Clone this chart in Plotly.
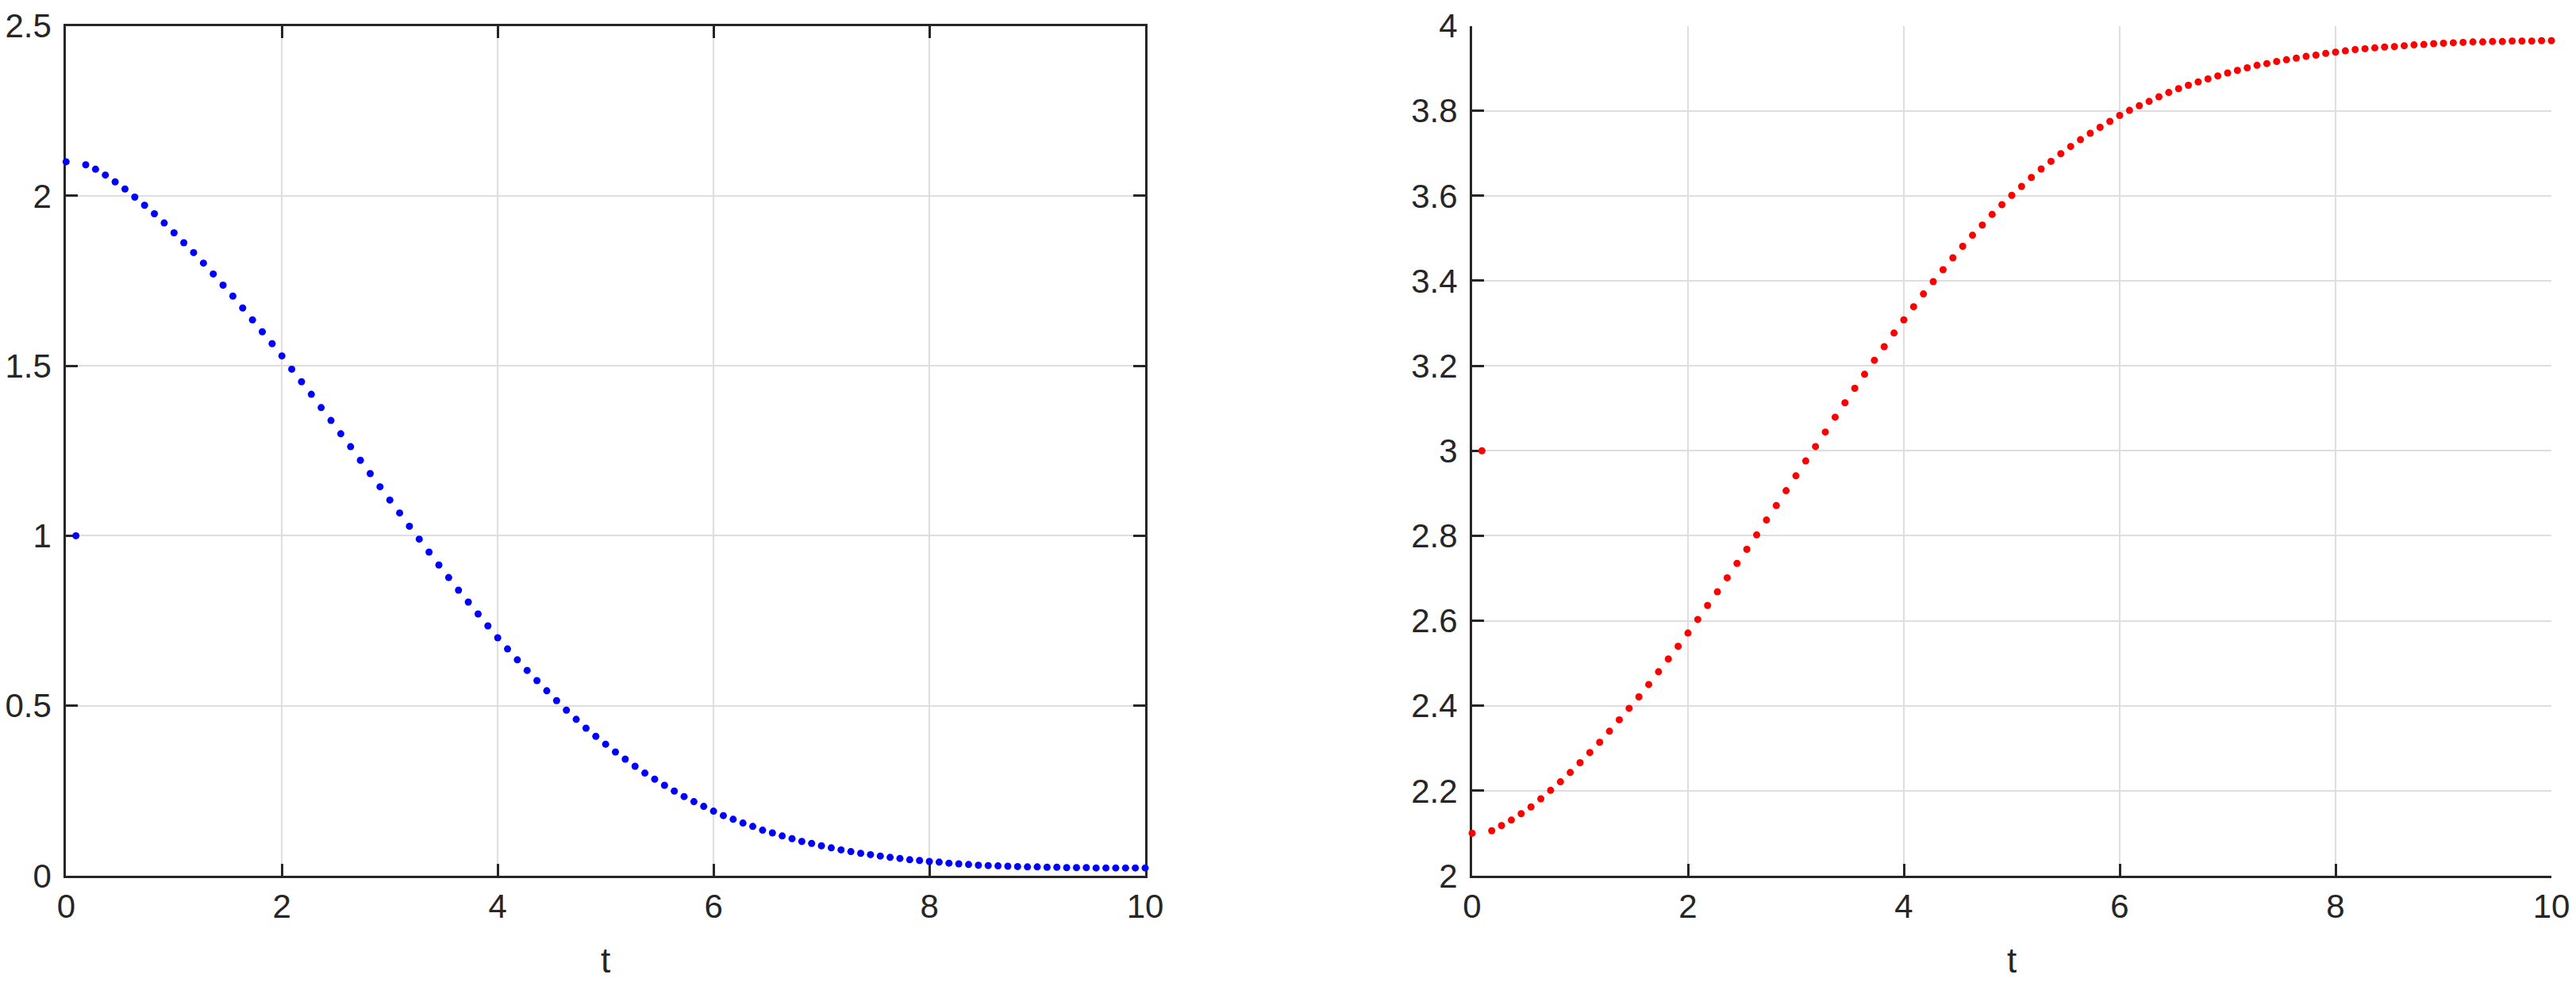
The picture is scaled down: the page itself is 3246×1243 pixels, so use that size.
import plotly.graph_objects as go

# time samples (t axis)
t = [0.0, 0.0909, 0.1818, 0.2727, 0.3636, 0.4545, 0.5455, 0.6364, 0.7273, 0.8182, 0.9091,
     1.0, 1.0909, 1.1818, 1.2727, 1.3636, 1.4545, 1.5455, 1.6364, 1.7273, 1.8182, 1.9091,
     2.0, 2.0909, 2.1818, 2.2727, 2.3636, 2.4545, 2.5455, 2.6364, 2.7273, 2.8182, 2.9091,
     3.0, 3.0909, 3.1818, 3.2727, 3.3636, 3.4545, 3.5455, 3.6364, 3.7273, 3.8182, 3.9091,
     4.0, 4.0909, 4.1818, 4.2727, 4.3636, 4.4545, 4.5455, 4.6364, 4.7273, 4.8182, 4.9091,
     5.0, 5.0909, 5.1818, 5.2727, 5.3636, 5.4545, 5.5455, 5.6364, 5.7273, 5.8182, 5.9091,
     6.0, 6.0909, 6.1818, 6.2727, 6.3636, 6.4545, 6.5455, 6.6364, 6.7273, 6.8182, 6.9091,
     7.0, 7.0909, 7.1818, 7.2727, 7.3636, 7.4545, 7.5455, 7.6364, 7.7273, 7.8182, 7.9091,
     8.0, 8.0909, 8.1818, 8.2727, 8.3636, 8.4545, 8.5455, 8.6364, 8.7273, 8.8182, 8.9091,
     9.0, 9.0909, 9.1818, 9.2727, 9.3636, 9.4545, 9.5455, 9.6364, 9.7273, 9.8182, 9.9091,
     10.0]

# left panel series (blue)
x1 = [2.100, 1.000, 2.091, 2.078, 2.061, 2.041, 2.020, 1.996, 1.972, 1.947, 1.920,
      1.891, 1.862, 1.833, 1.802, 1.770, 1.737, 1.705, 1.670, 1.635, 1.600, 1.565,
      1.529, 1.490, 1.453, 1.416, 1.377, 1.339, 1.300, 1.262, 1.222, 1.183, 1.144,
      1.105, 1.067, 1.028, 0.990, 0.952, 0.914, 0.877, 0.840, 0.805, 0.770, 0.735,
      0.700, 0.667, 0.635, 0.604, 0.574, 0.544, 0.515, 0.487, 0.460, 0.434, 0.410,
      0.387, 0.364, 0.343, 0.322, 0.302, 0.284, 0.266, 0.249, 0.233, 0.218, 0.204,
      0.190, 0.177, 0.166, 0.155, 0.145, 0.134, 0.126, 0.117, 0.109, 0.101, 0.095,
      0.088, 0.082, 0.076, 0.071, 0.066, 0.062, 0.058, 0.054, 0.051, 0.047, 0.045,
      0.042, 0.040, 0.037, 0.035, 0.033, 0.031, 0.030, 0.029, 0.028, 0.027, 0.026,
      0.026, 0.025, 0.025, 0.024, 0.024, 0.024, 0.023, 0.023, 0.023, 0.023, 0.023,
      0.023]

# right panel series (red)
x2 = [2.100, 3.000, 2.106, 2.118, 2.131, 2.146, 2.162, 2.181, 2.201, 2.221, 2.243,
      2.266, 2.290, 2.314, 2.340, 2.367, 2.394, 2.421, 2.450, 2.480, 2.510, 2.540,
      2.571, 2.603, 2.636, 2.668, 2.701, 2.735, 2.768, 2.802, 2.837, 2.871, 2.906,
      2.941, 2.976, 3.010, 3.044, 3.079, 3.113, 3.147, 3.180, 3.213, 3.245, 3.277,
      3.308, 3.339, 3.369, 3.398, 3.426, 3.454, 3.481, 3.507, 3.531, 3.556, 3.579,
      3.601, 3.622, 3.643, 3.663, 3.681, 3.699, 3.716, 3.732, 3.747, 3.761, 3.775,
      3.789, 3.801, 3.812, 3.822, 3.833, 3.843, 3.852, 3.860, 3.868, 3.875, 3.882,
      3.889, 3.895, 3.901, 3.907, 3.911, 3.916, 3.920, 3.924, 3.928, 3.931, 3.935,
      3.938, 3.941, 3.944, 3.946, 3.948, 3.950, 3.951, 3.953, 3.955, 3.956, 3.958,
      3.959, 3.960, 3.961, 3.962, 3.962, 3.963, 3.963, 3.964, 3.964, 3.964, 3.965,
      3.965]

x_ticks = [0, 2, 4, 6, 8, 10]
x_tick_labels = ["0", "2", "4", "6", "8", "10"]
y1_ticks = [0, 0.5, 1, 1.5, 2, 2.5]
y1_tick_labels = ["0", "0.5", "1", "1.5", "2", "2.5"]
y2_ticks = [2, 2.2, 2.4, 2.6, 2.8, 3, 3.2, 3.4, 3.6, 3.8, 4]
y2_tick_labels = ["2", "2.2", "2.4", "2.6", "2.8", "3", "3.2", "3.4", "3.6", "3.8", "4"]
x_title = "t"

# the page body has an 8px margin, so the figure is drawn 8px in from the window edge
OFF = 8
W, H = 3246 - 2 * OFF, 1243 - 2 * OFF
AX = "#262626"
GRID = "#dedede"
FONT = "Liberation Sans, Arial, Helvetica, sans-serif"

fig = go.Figure()
fig.add_trace(go.Scatter(x=t, y=x1, mode="markers", xaxis="x", yaxis="y",
                         marker=dict(color="#0000ff", size=9), cliponaxis=False,
                         showlegend=False))
fig.add_trace(go.Scatter(x=t, y=x2, mode="markers", xaxis="x2", yaxis="y2",
                         marker=dict(color="#ff0000", size=9), cliponaxis=False,
                         showlegend=False))

ydom = [1 - (1104 - OFF) / H, 1 - (32.5 - OFF) / H]

def xax(domain, anchor, mirror):
    return dict(domain=domain, anchor=anchor, range=[0, 10], tickvals=x_ticks,
                ticktext=x_tick_labels, showgrid=True, gridcolor=GRID, gridwidth=2,
                zeroline=False, showline=True, linecolor=AX, linewidth=3,
                mirror=mirror, ticks="inside", ticklen=15, tickwidth=3, tickcolor=AX,
                tickfont=dict(family=FONT, size=42, color=AX), ticklabelstandoff=0,
                ticklabeloverflow="allow",
                title=dict(text=x_title, font=dict(family=FONT, size=44, color=AX),
                           standoff=32),
                layer="below traces", automargin=False, fixedrange=True)

def yax(domain, anchor, rng, vals, labels, mirror):
    return dict(domain=domain, anchor=anchor, range=rng, tickvals=vals, ticktext=labels,
                showgrid=True, gridcolor=GRID, gridwidth=2, zeroline=False,
                showline=True, linecolor=AX, linewidth=3, mirror=mirror,
                ticks="inside", ticklen=15, tickwidth=3, tickcolor=AX,
                tickfont=dict(family=FONT, size=42, color=AX), ticklabelstandoff=7,
                ticklabeloverflow="allow",
                layer="below traces", automargin=False, fixedrange=True)

fig.update_layout(
    width=W, height=H,
    margin=dict(l=0, r=0, t=0, b=0),
    paper_bgcolor="white", plot_bgcolor="white",
    xaxis=xax([(83.3 - OFF) / W, (1443 - OFF) / W], "y", "ticks"),
    yaxis=yax(ydom, "x", [0, 2.5], y1_ticks, y1_tick_labels, "ticks"),
    xaxis2=xax([(1855 - OFF) / W, (3215 - OFF) / W], "y2", False),
    yaxis2=yax(ydom, "x2", [2, 4], y2_ticks, y2_tick_labels, False),
)

fig.write_html("out.html")
